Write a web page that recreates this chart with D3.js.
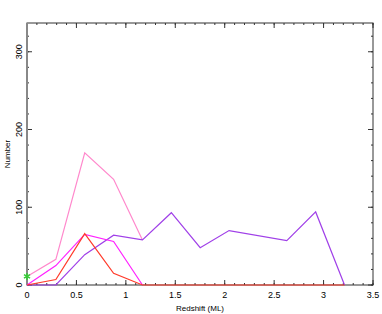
<!DOCTYPE html>
<html>
<head>
<meta charset="utf-8">
<script src="https://cdn.jsdelivr.net/npm/d3@7"></script>
<style>
  body { margin: 0; background: #fff; }
  text { font-family: "Liberation Sans", Arial, sans-serif; fill: #000; }
</style>
</head>
<body>
<div id="chart"></div>
<script>
// chart data
var zBins = [0, 0.292, 0.584, 0.876, 1.168, 1.46, 1.752, 2.044, 2.628, 2.92, 3.212];
var pinkCounts = [11, 33, 170, 136, 58];
var magentaCounts = [0, 25, 65, 56, 0];
var redCounts = [0, 7, 66, 15, 0, 0, 0, 0, 0, 0, 0];
var purpleCounts = [0, 0, 39, 64, 58, 93, 48, 70, 57, 94, 0];
var starPoint = [[0, 11]];
var xTicks = [0, 0.5, 1, 1.5, 2, 2.5, 3, 3.5];
var yTicks = [0, 100, 200, 300];

var width = 382;
var height = 314;
var plotLeft = 27, plotRight = 373, plotTop = 23, plotBottom = 285;

var svg = d3.select("#chart")
  .append("svg")
  .attr("width", width)
  .attr("height", height);

var xScale = d3.scaleLinear().domain([0, 3.5]).range([plotLeft, plotRight]);
var yScale = d3.scaleLinear().domain([0, 337]).range([plotBottom, plotTop]);

// minor ticks every 0.1 / 20
var xMinor = d3.range(0, 3.51, 0.1);
var yMinor = d3.range(0, 337, 20);

function drawTicks(g, vals, scale, horizontal, len, flip) {
  g.selectAll(null).data(vals).enter().append("line")
    .attr("x1", function(d) { return horizontal ? scale(d) : 0; })
    .attr("x2", function(d) { return horizontal ? scale(d) : (flip ? -len : len); })
    .attr("y1", function(d) { return horizontal ? 0 : scale(d); })
    .attr("y2", function(d) { return horizontal ? (flip ? len : -len) : scale(d); })
    .attr("stroke", "#333")
    .attr("stroke-width", 1);
}

// bottom / top ticks
var gb = svg.append("g").attr("transform", "translate(0," + plotBottom + ")");
drawTicks(gb, xMinor, xScale, true, 2, false);
drawTicks(gb, xTicks, xScale, true, 5, false);
var gt = svg.append("g").attr("transform", "translate(0," + plotTop + ")");
drawTicks(gt, xMinor, xScale, true, 2, true);
drawTicks(gt, xTicks, xScale, true, 5, true);

// left / right ticks
var gl = svg.append("g").attr("transform", "translate(" + plotLeft + ",0)");
drawTicks(gl, yMinor, yScale, false, 2, false);
drawTicks(gl, yTicks, yScale, false, 5, false);
var gr = svg.append("g").attr("transform", "translate(" + plotRight + ",0)");
drawTicks(gr, yMinor, yScale, false, 2, true);
drawTicks(gr, yTicks, yScale, false, 5, true);

// frame
svg.append("rect")
  .attr("x", plotLeft).attr("y", plotTop)
  .attr("width", plotRight - plotLeft).attr("height", plotBottom - plotTop)
  .attr("fill", "none").attr("stroke", "#333").attr("stroke-width", 1);
svg.append("line")
  .attr("x1", plotLeft).attr("x2", plotLeft).attr("y1", plotTop).attr("y2", plotBottom)
  .attr("stroke", "#888").attr("stroke-width", 2);

// tick labels
svg.selectAll(".xLab").data(xTicks).enter().append("text")
  .attr("class", "xLab")
  .attr("x", function(d) { return xScale(d); })
  .attr("y", 298)
  .attr("text-anchor", "middle")
  .attr("font-size", 9)
  .text(function(d) { return d; });

svg.selectAll(".yLab").data(yTicks).enter().append("text")
  .attr("class", "yLab")
  .attr("transform", function(d) { return "translate(22," + yScale(d) + ")rotate(-90)"; })
  .attr("text-anchor", "middle")
  .attr("font-size", 9)
  .text(function(d) { return d; });

// axis titles
svg.append("text")
  .attr("x", 200).attr("y", 311)
  .attr("text-anchor", "middle")
  .attr("font-size", 8)
  .text("Redshift  (ML)");

svg.append("text")
  .attr("transform", "translate(10,154)rotate(-90)")
  .attr("text-anchor", "middle")
  .attr("font-size", 8)
  .text("Number");

// series
var line = d3.line()
  .x(function(d) { return xScale(d[0]); })
  .y(function(d) { return yScale(d[1]); });

function addSeries(counts, color) {
  var pts = counts.map(function(c, i) { return [zBins[i], c]; });
  svg.append("path")
    .datum(pts)
    .attr("d", line)
    .attr("fill", "none")
    .attr("stroke", color)
    .attr("stroke-width", 1.2);
}

addSeries(pinkCounts, "#ff88cc");
addSeries(purpleCounts, "#a040e8");
addSeries(magentaCounts, "#ff22ff");
addSeries(redCounts, "#ff3a2a");

// green star marker
var star = svg.selectAll(".star").data(starPoint).enter().append("g")
  .attr("transform", function(d) { return "translate(" + xScale(d[0]) + "," + yScale(d[1]) + ")"; });
[0, 60, 120].forEach(function(a) {
  star.append("line")
    .attr("x1", -3.5).attr("x2", 3.5).attr("y1", 0).attr("y2", 0)
    .attr("transform", "rotate(" + (a + 90) + ")")
    .attr("stroke", "#33cc33").attr("stroke-width", 1.5);
});
</script>
</body>
</html>
